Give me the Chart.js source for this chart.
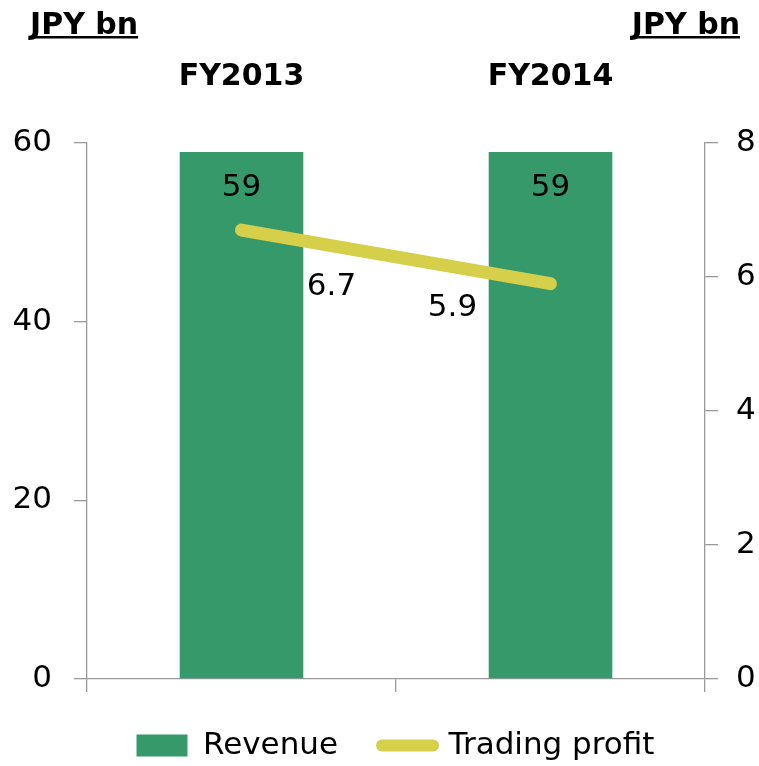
<!DOCTYPE html>
<html lang="en">
<head>
  <meta charset="UTF-8">
  <title>Revenue and trading profit</title>
  <style>
    body { margin: 0; background: #fff; }
    .Chart-container { width: 759px; height: 766px; position: relative; }
  </style>
</head>
<body>
  <div class="Chart-container">
    <canvas id="myChart"></canvas>
  </div>
  <script src="https://cdn.jsdelivr.net/npm/chart.js"></script>
  <script>
    // data
    const labels = ['FY2013', 'FY2014'];
    const revenue = [59, 59];
    const tradingProfit = [6.7, 5.9];
    const leftTicks = [0, 20, 40, 60];
    const rightTicks = [0, 2, 4, 6, 8];

    const FONT = "Verdana, 'DejaVu Sans', sans-serif";
    const GREEN = '#35996a';
    const YELLOW = '#d5cf4a';
    const GREY = '#9a9a9a';

    const ctx = document.getElementById('myChart');

    // "JPY bn" headers, underlined
    const unitTitles = {
      id: 'unitTitles',
      afterDraw(chart) {
        const c = chart.ctx;
        c.save();
        c.font = 'bold 30px ' + FONT;
        c.fillStyle = '#000';
        c.textBaseline = 'alphabetic';
        c.textAlign = 'left';
        const text = 'JPY bn';
        const w = c.measureText(text).width;
        [30, 740 - w].forEach(x0 => {
          c.fillText(text, x0, 34);
          c.fillRect(x0, 36, w, 2.5);
        });
        c.restore();
      }
    };

    // value labels next to bars and line points
    const valueLabels = {
      id: 'valueLabels',
      afterDatasetsDraw(chart, args, opts) {
        const c = chart.ctx;
        c.save();
        c.font = '31px ' + FONT;
        c.fillStyle = '#000';
        c.textAlign = 'center';
        c.textBaseline = 'middle';
        chart.data.datasets.forEach((ds, i) => {
          const meta = chart.getDatasetMeta(i);
          const offs = opts.offsets[i];
          meta.data.forEach((el, j) => {
            const o = offs[j];
            c.fillText(String(ds.data[j]), el.x + o[0], el.y + o[1]);
          });
        });
        c.restore();
      }
    };

    // legend sits a little right of centre in the original
    const legendShift = {
      id: 'legendShift',
      afterLayout(chart, args, opts) {
        if (chart.legend) {
          chart.legend.left += opts.dx;
          chart.legend.right += opts.dx;
        }
      }
    };

    let mychart = new Chart(ctx, {
      data: {
        labels: labels,
        datasets: [{
          type: 'bar',
          label: 'Revenue',
          data: revenue,
          backgroundColor: GREEN,
          borderColor: GREEN,
          borderWidth: 0,
          pointStyle: 'rect',
          yAxisID: 'y',
          xAxisID: 'x',
          categoryPercentage: 1,
          barPercentage: 0.4,
          order: 1
        }, {
          type: 'line',
          label: 'Trading profit',
          data: tradingProfit,
          borderColor: YELLOW,
          backgroundColor: YELLOW,
          borderWidth: 13,
          borderCapStyle: 'round',
          pointRadius: 0,
          pointStyle: 'line',
          yAxisID: 'y2',
          xAxisID: 'x',
          order: 0
        }]
      },
      options: {
        responsive: true,
        maintainAspectRatio: false,
        animation: false,
        layout: { padding: 0 },
        scales: {
          x: {
            type: 'category',
            position: 'bottom',
            offset: true,
            grid: { offset: true, drawOnChartArea: false, tickLength: 13, color: GREY, lineWidth: 1.3 },
            border: { color: GREY, width: 1.3 },
            ticks: { display: false },
            afterFit(s) { s.height = 7; }
          },
          x2: {
            type: 'category',
            position: 'top',
            labels: labels,
            offset: true,
            grid: { display: false, drawTicks: false },
            border: { display: false },
            ticks: { color: '#000', font: { family: FONT, size: 30, weight: 'bold' }, padding: 48 },
            afterFit(s) { s.height = 143; }
          },
          y: {
            position: 'left',
            min: 0, max: 60,
            afterBuildTicks(s) { s.ticks = leftTicks.map(v => ({ value: v })); },
            grid: { drawOnChartArea: false, tickLength: 13, color: GREY, lineWidth: 1.3 },
            border: { color: GREY, width: 1.3 },
            ticks: { color: '#000', font: { family: FONT, size: 31 }, padding: 22 },
            afterFit(s) { s.width = 87; }
          },
          y2: {
            position: 'right',
            min: 0, max: 8,
            afterBuildTicks(s) { s.ticks = rightTicks.map(v => ({ value: v })); },
            grid: { drawOnChartArea: false, tickLength: 13, color: GREY, lineWidth: 1.3 },
            border: { color: GREY, width: 1.3 },
            ticks: { color: '#000', font: { family: FONT, size: 31 }, padding: 18 },
            afterFit(s) { s.width = 54; }
          }
        },
        plugins: {
          tooltip: { enabled: false },
          legend: {
            position: 'bottom',
            maxHeight: 80,
            labels: {
              usePointStyle: true,
              pointStyleWidth: 51,
              boxHeight: 22,
              padding: 44,
              color: '#000',
              font: { family: FONT, size: 31 },
              sort: (a, b) => a.datasetIndex - b.datasetIndex,
              generateLabels(chart) {
                const items = Chart.defaults.plugins.legend.labels.generateLabels(chart);
                items.forEach(it => {
                  if (it.datasetIndex === 1) {
                    it.lineCap = 'round';
                    it.lineWidth = 12;
                    it.strokeStyle = YELLOW;
                  } else {
                    it.lineWidth = 0;
                  }
                });
                return items;
              }
            }
          },
          legendShift: { dx: 16 },
          valueLabels: {
            offsets: [
              [[0, 36], [0, 36]],
              [[90, 57], [-98, 24]]
            ]
          }
        }
      },
      plugins: [unitTitles, valueLabels, legendShift]
    });
  </script>
</body>
</html>
